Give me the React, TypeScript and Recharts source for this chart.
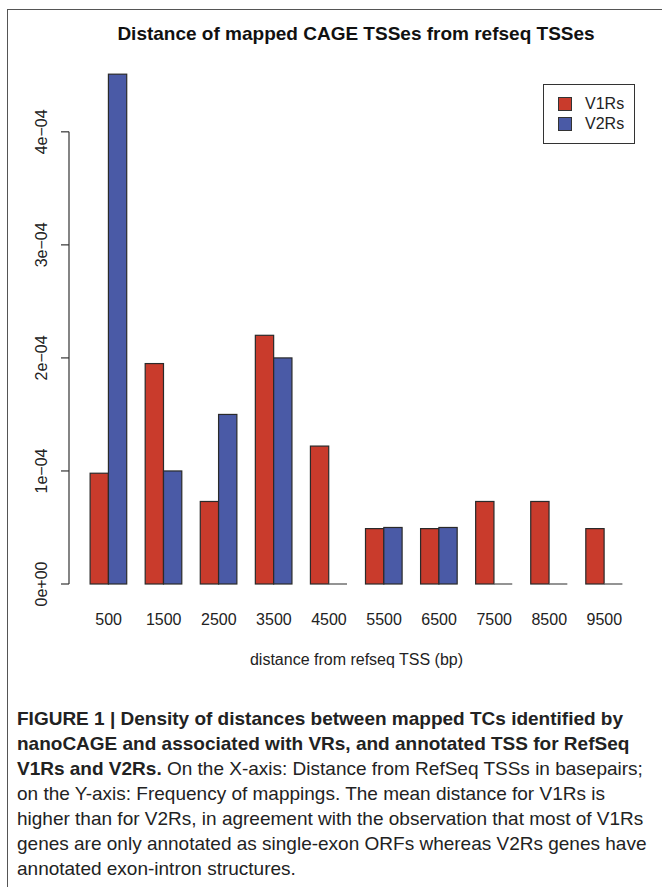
import React from "react";
import {
  BarChart,
  Bar,
  XAxis,
  YAxis,
  ReferenceLine,
  Legend
} from "recharts";

const distances = [500, 1500, 2500, 3500, 4500, 5500, 6500, 7500, 8500, 9500];
const v1Rs = [0.98e-4, 1.95e-4, 0.73e-4, 2.2e-4, 1.22e-4, 0.49e-4, 0.49e-4, 0.73e-4, 0.73e-4, 0.49e-4];
const v2Rs = [4.51e-4, 1.0e-4, 1.5e-4, 2.0e-4, 0, 0.5e-4, 0.5e-4, 0, 0, 0];
const yTicks = [0, 1e-4, 2e-4, 3e-4, 4e-4];
const yTickLabels = ["0e+00", "1e\u221204", "2e\u221204", "3e\u221204", "4e\u221204"];

const RED = "#c93b2c";
const BLUE = "#4a5aa6";
const INK = "#222";
const FONT = "'Liberation Sans', Arial, Helvetica, sans-serif";

const data = distances.map((d, i) => ({ dist: d, V1Rs: v1Rs[i], V2Rs: v2Rs[i] }));

function BarShape(props: any) {
  const { x, y, width, height, fill } = props;
  if (!height || height < 0.5) {
    return <line x1={x} x2={x + width} y1={y} y2={y} stroke="#666" strokeWidth={1.4} />;
  }
  return <rect x={x} y={y} width={width} height={height} fill={fill} stroke="#2a2a2a" strokeWidth={1.2} />;
}

function YTick(props: any) {
  const { x, y, index } = props;
  return (
    <text
      transform={`translate(${x - 12}, ${y}) rotate(-90)`}
      textAnchor="middle"
      fontSize={16}
      fontFamily={FONT}
      fill={INK}
    >
      {yTickLabels[index]}
    </text>
  );
}

function XTick(props: any) {
  const { x, y, payload } = props;
  return (
    <text x={x} y={y + 41} textAnchor="middle" fontSize={16} fontFamily={FONT} fill={INK}>
      {payload.value}
    </text>
  );
}

function LegendBox(props: any) {
  const items = props.payload || [];
  return (
    <div
      style={{
        width: 92,
        height: 60,
        border: "1.3px solid #333",
        boxSizing: "border-box",
        paddingTop: 9,
        paddingLeft: 14,
        fontFamily: FONT,
        fontSize: 16,
        color: INK,
        background: "#fff",
        textAlign: "left"
      }}
    >
      {items.map((it: any) => (
        <div key={it.value} style={{ display: "flex", alignItems: "center", height: 20 }}>
          <span
            style={{
              display: "inline-block",
              width: 12,
              height: 12,
              background: it.color,
              border: "1px solid #333",
              marginRight: 13
            }}
          />
          {it.value}
        </div>
      ))}
    </div>
  );
}

const captionLines: [string, string][] = [
  ["FIGURE 1 | Density of distances between mapped TCs identified by", ""],
  ["nanoCAGE and associated with VRs, and annotated TSS for RefSeq", ""],
  ["V1Rs and V2Rs.", " On the X-axis: Distance from RefSeq TSSs in basepairs;"],
  ["", "on the Y-axis: Frequency of mappings. The mean distance for V1Rs is"],
  ["", "higher than for V2Rs, in agreement with the observation that most of V1Rs"],
  ["", "genes are only annotated as single-exon ORFs whereas V2Rs genes have"],
  ["", "annotated exon-intron structures."]
];

export default function App() {
  return (
    <div
      style={{
        position: "absolute",
        left: 0,
        top: 0,
        width: 662,
        height: 887,
        overflow: "hidden",
        background: "#fff"
      }}
    >
      <div
        style={{
          position: "absolute",
          left: 7,
          top: 9,
          width: 700,
          height: 900,
          borderLeft: "1.5px solid #555",
          borderTop: "1.5px solid #555"
        }}
      />
      <div
        style={{
          position: "absolute",
          left: 0,
          top: 23,
          width: 712,
          textAlign: "center",
          fontFamily: FONT,
          fontWeight: "bold",
          fontSize: 19,
          color: "#111"
        }}
      >
        Distance of mapped CAGE TSSes from refseq TSSes
      </div>
      <div style={{ position: "absolute", left: 0, top: 0 }}>
        <BarChart
          width={662}
          height={690}
          data={data}
          barGap={0}
          barSize={18.3}
          margin={{ top: 64, right: 18, bottom: 16, left: 0 }}
        >
          <XAxis
            dataKey="dist"
            type="number"
            domain={[-220, 10220]}
            ticks={distances}
            interval={0}
            axisLine={false}
            tickLine={false}
            tickSize={0}
            tickMargin={0}
            height={90}
            tick={<XTick />}
            label={{
              value: "distance from refseq TSS (bp)",
              position: "insideBottom",
              offset: 9,
              fontSize: 16,
              fontFamily: FONT,
              fill: INK
            }}
          />
          <YAxis
            type="number"
            domain={[0, 4.6e-4]}
            ticks={yTicks}
            interval={0}
            width={69}
            axisLine={false}
            tickLine={{ stroke: "#333", strokeWidth: 1.2 }}
            tickSize={8}
            tickMargin={2}
            tick={<YTick />}
          />
          <ReferenceLine
            segment={[
              { x: -220, y: 0 },
              { x: -220, y: 4e-4 }
            ]}
            stroke="#333"
            strokeWidth={1.2}
          />
          <Legend
            content={<LegendBox />}
            layout="vertical"
            align="center"
            verticalAlign="middle"
            wrapperStyle={{ position: "absolute", left: 543, top: 84, width: 92, height: 60 }}
          />
          <Bar dataKey="V1Rs" fill={RED} shape={<BarShape />} isAnimationActive={false} />
          <Bar dataKey="V2Rs" fill={BLUE} shape={<BarShape />} isAnimationActive={false} />
        </BarChart>
      </div>
      <div
        style={{
          position: "absolute",
          left: 17,
          top: 706,
          fontFamily: FONT,
          fontSize: 19,
          lineHeight: "25px",
          color: "#222",
          whiteSpace: "nowrap"
        }}
      >
        {captionLines.map(([b, r], i) => (
          <div key={i}>
            {b && <span style={{ fontWeight: "bold" }}>{b}</span>}
            {r}
          </div>
        ))}
      </div>
    </div>
  );
}
